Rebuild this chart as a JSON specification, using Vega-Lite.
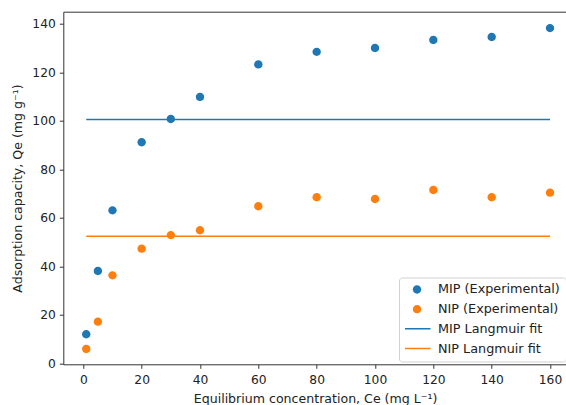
{
  "$schema": "https://vega.github.io/schema/vega-lite/v6.json",
  "autosize": {"type": "none"},
  "padding": {"left": 63.3, "top": 11.7, "right": 0, "bottom": 40.7},
  "width": 503.5,
  "height": 352.6,
  "config": {
    "font": "DejaVu Sans",
    "view": {"stroke": "#333", "strokeWidth": 1},
    "axis": {
      "grid": false,
      "domain": false,
      "labelFont": "DejaVu Sans",
      "titleFont": "DejaVu Sans",
      "labelFontSize": 12.3,
      "titleFontSize": 12.6,
      "titleFontWeight": "normal",
      "labelColor": "#222",
      "titleColor": "#222",
      "tickColor": "#333",
      "tickSize": 4,
      "tickWidth": 1
    }
  },
  "layer": [
    {
      "data": {
        "values": [
          {"series": "MIP (Experimental)", "ce": 1, "qe": 12.0},
          {"series": "MIP (Experimental)", "ce": 5, "qe": 38.1},
          {"series": "MIP (Experimental)", "ce": 10, "qe": 63.1},
          {"series": "MIP (Experimental)", "ce": 20, "qe": 91.2},
          {"series": "MIP (Experimental)", "ce": 30, "qe": 100.8},
          {"series": "MIP (Experimental)", "ce": 40, "qe": 109.9},
          {"series": "MIP (Experimental)", "ce": 60, "qe": 123.3},
          {"series": "MIP (Experimental)", "ce": 80, "qe": 128.5},
          {"series": "MIP (Experimental)", "ce": 100, "qe": 130.1},
          {"series": "MIP (Experimental)", "ce": 120, "qe": 133.4},
          {"series": "MIP (Experimental)", "ce": 140, "qe": 134.6},
          {"series": "MIP (Experimental)", "ce": 160, "qe": 138.3},
          {"series": "NIP (Experimental)", "ce": 1, "qe": 5.9},
          {"series": "NIP (Experimental)", "ce": 5, "qe": 17.2},
          {"series": "NIP (Experimental)", "ce": 10, "qe": 36.3},
          {"series": "NIP (Experimental)", "ce": 20, "qe": 47.3},
          {"series": "NIP (Experimental)", "ce": 30, "qe": 52.9},
          {"series": "NIP (Experimental)", "ce": 40, "qe": 54.9},
          {"series": "NIP (Experimental)", "ce": 60, "qe": 64.8},
          {"series": "NIP (Experimental)", "ce": 80, "qe": 68.5},
          {"series": "NIP (Experimental)", "ce": 100, "qe": 67.8},
          {"series": "NIP (Experimental)", "ce": 120, "qe": 71.5},
          {"series": "NIP (Experimental)", "ce": 140, "qe": 68.5},
          {"series": "NIP (Experimental)", "ce": 160, "qe": 70.4}
        ]
      },
      "mark": {"type": "point", "filled": true, "size": 729, "opacity": 1},
      "encoding": {
        "x": {
          "field": "ce", "type": "quantitative",
          "scale": {"domain": [-6.86, 165.75], "nice": false, "zero": false},
          "axis": {"values": [0, 20, 40, 60, 80, 100, 120, 140, 160], "labelPadding": 5, "titlePadding": 7, "title": "Equilibrium concentration, Ce (mg L⁻¹)"}
        },
        "y": {
          "field": "qe", "type": "quantitative",
          "scale": {"domain": [-0.4, 145.05], "nice": false, "zero": false},
          "axis": {"values": [0, 20, 40, 60, 80, 100, 120, 140], "labelPadding": 4, "titlePadding": 7, "title": "Adsorption capacity, Qe (mg g⁻¹)"}
        },
        "color": {
          "field": "series", "type": "nominal",
          "scale": {
            "domain": ["MIP (Experimental)", "NIP (Experimental)", "MIP Langmuir fit", "NIP Langmuir fit"],
            "range": ["#1f77b4", "#ff7f0e", "#1f77b4", "#ff7f0e"]
          },
          "legend": {
            "title": null,
            "orient": "none",
            "legendX": 335.7,
            "legendY": 265.8,
            "padding": 6,
            "symbolSize": 729,
            "clipHeight": 12,
            "rowPadding": 6.67,
            "symbolOffset": -2.5,
            "labelOffset": 6.5,
            "labelFont": "DejaVu Sans",
            "labelFontSize": 12.8,
            "labelColor": "#222",
            "strokeColor": "#d0d0d0",
            "fillColor": "rgba(255,255,255,0.8)",
            "cornerRadius": 3,
            "symbolOpacity": 1,
            "encode": {
              "symbols": {
                "update": {
                  "fill": {"scale": "color", "field": "value"},
                  "stroke": {"scale": "color", "field": "value"},
                  "strokeWidth": {"value": 1.5},
                  "strokeOpacity": [
                    {"test": "indexof(datum.value, 'fit') >= 0", "value": 1},
                    {"value": 0}
                  ]
                }
              }
            }
          }
        },
        "shape": {
          "field": "series", "type": "nominal",
          "scale": {
            "domain": ["MIP (Experimental)", "NIP (Experimental)", "MIP Langmuir fit", "NIP Langmuir fit"],
            "range": [
              "M0.31,0A0.31,0.31,0,1,1,-0.31,0A0.31,0.31,0,1,1,0.31,0Z",
              "M0.31,0A0.31,0.31,0,1,1,-0.31,0A0.31,0.31,0,1,1,0.31,0Z",
              "M-1,0H1",
              "M-1,0H1"
            ]
          },
          "legend": {
            "title": null,
            "orient": "none",
            "legendX": 335.7,
            "legendY": 265.8,
            "padding": 6,
            "symbolSize": 729,
            "clipHeight": 12,
            "rowPadding": 6.67,
            "symbolOffset": -2.5,
            "labelOffset": 6.5
          }
        }
      }
    },
    {
      "data": {
        "values": [
          {"series": "MIP Langmuir fit", "ce": 1, "ce_end": 160, "qe": 100.6},
          {"series": "NIP Langmuir fit", "ce": 1, "ce_end": 160, "qe": 52.4}
        ]
      },
      "mark": {"type": "rule", "strokeWidth": 1.5},
      "encoding": {
        "x": {"field": "ce", "type": "quantitative"},
        "x2": {"field": "ce_end"},
        "y": {"field": "qe", "type": "quantitative"},
        "color": {"field": "series", "type": "nominal"}
      }
    }
  ]
}
